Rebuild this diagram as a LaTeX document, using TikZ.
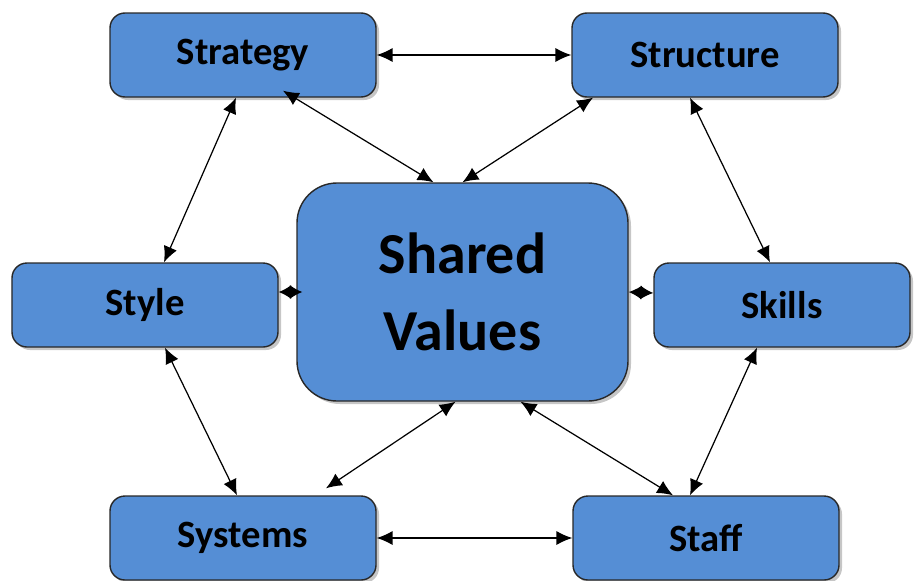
\documentclass[tikz,border=0pt]{standalone}
\usepackage{fontspec}
\setmainfont{Carlito}
\usetikzlibrary{shadows}
\usetikzlibrary{arrows.meta}

\definecolor{boxblue}{RGB}{85,142,213}
\definecolor{boxline}{RGB}{40,40,40}

\begin{document}
\begin{tikzpicture}[
        sbox/.style={rectangle, draw=boxline, line width=0.8pt, fill=boxblue,
            rounded corners=0.3cm, minimum width=5.32cm, minimum height=1.68cm,
            font=\fontsize{22}{26}\selectfont\bfseries,
            drop shadow={opacity=0.45, shadow xshift=0.06cm, shadow yshift=-0.06cm}},
        link/.style={<->, line width=0.7pt},
        shortlink/.style={{Latex[length=#1,width=0.28cm]}-{Latex[length=#1,width=0.28cm]}, line width=0.7pt},
        >={Latex[length=9pt,width=8pt]}
    ]
            \useasboundingbox (0,0) rectangle (18.28,-11.6);

            \node[sbox, rounded corners=0.8cm, minimum width=6.62cm, minimum height=4.36cm,
                align=center, font=\fontsize{33}{44}\selectfont\bfseries] (values) at (9.25,-5.84) {Shared\\Values};

            \node[sbox] (strategy) at (4.86,-1.10) {Strategy};
            \node[sbox] (structure) at (14.10,-1.10) {Structure};
            \node[sbox] (style) at (2.90,-6.10) {Style};
            \node[sbox, minimum width=5.12cm] (skills) at (15.64,-6.10) {Skills};
            \node[sbox] (systems) at (4.86,-10.76) {Systems};
            \node[sbox] (staff) at (14.12,-10.76) {Staff};

            %outer ring
            \draw[link] (strategy) -- (structure);
            \draw[link] (systems) -- (staff);
            \draw[link] ([xshift=-0.14cm]strategy.south) -- ([xshift=0.38cm]style.north);
            \draw[link] ([xshift=-0.30cm]structure.south) -- ([xshift=-0.24cm]skills.north);
            \draw[link] ([xshift=0.40cm]style.south) -- ([xshift=-0.12cm]systems.north);
            \draw[link] ([xshift=-0.50cm]skills.south) -- ([xshift=-0.32cm]staff.north);

            %to the centre
            \draw[link] ([xshift=0.80cm, yshift=0.14cm]strategy.south) -- ([xshift=-0.58cm]values.north);
            \draw[link] ([xshift=-2.24cm]structure.south) -- (values.north);
            \draw[link] ([xshift=-0.14cm]values.south) -- ([xshift=1.66cm, yshift=0.14cm]systems.north);
            \draw[link] ([xshift=1.16cm]values.south) -- ([xshift=-0.66cm]staff.north);
            \draw[shortlink=0.25cm] ([yshift=0.26cm]style.east) -- ([xshift=0.12cm]values.west);
            \draw[shortlink=0.26cm] (values.east) -- ([yshift=0.24cm]skills.west);
\end{tikzpicture}
\end{document}
